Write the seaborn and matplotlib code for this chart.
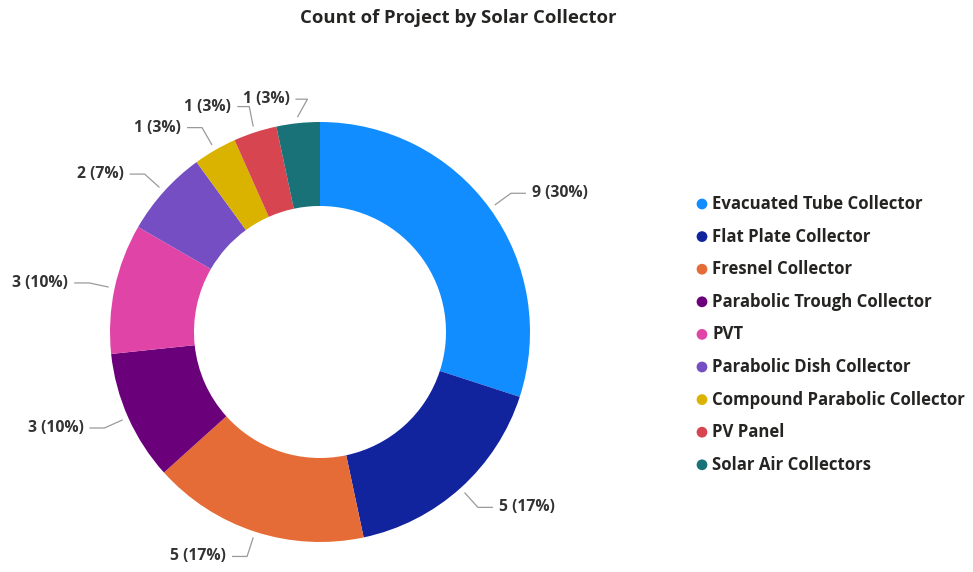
import numpy as np
import matplotlib
matplotlib.use("Agg")
import matplotlib.pyplot as plt
import seaborn as sns

# Project counts per solar collector type
collectors = [
    "Evacuated Tube Collector",
    "Flat Plate Collector",
    "Fresnel Collector",
    "Parabolic Trough Collector",
    "PVT",
    "Parabolic Dish Collector",
    "Compound Parabolic Collector",
    "PV Panel",
    "Solar Air Collectors",
]
counts = [9, 5, 5, 3, 3, 2, 1, 1, 1]
colors = ["#118DFF", "#12239E", "#E66C37", "#6B007B", "#E044A7",
          "#744EC2", "#D9B300", "#D64550", "#197278"]

sns.set_theme(style="white")
plt.rcParams["font.family"] = ["Open Sans", "DejaVu Sans"]

W, H = 973, 572
fig = plt.figure(figsize=(W / 100, H / 100), dpi=100)
ax = fig.add_axes([0, 0, 1, 1])

# Donut geometry in pixel units (y measured upward)
cx, cy = 320, H - 332
R = 210
ring = 0.40

wedges, _ = ax.pie(
    counts, colors=colors, startangle=90, counterclock=False,
    radius=R, center=(cx, cy),
    wedgeprops=dict(width=R * ring, edgecolor="none"),
)
ax.set_xlim(0, W)
ax.set_ylim(0, H)
ax.set_aspect("equal")
ax.axis("off")

# Data labels with elbow leader lines
total = sum(counts)
line_col = "#9a9a9a"
text_col = "#333333"
# crowded labels at the top get an explicit elbow offset (dx, dy) from the ring
elbow_override = {7: (-4, 20), 8: (10, 18)}
cum = 0
for i, v in enumerate(counts):
    mid = 90 - (cum + v / 2) / total * 360
    cum += v
    th = np.deg2rad(mid)
    ux, uy = np.cos(th), np.sin(th)
    p0 = (cx + (R + 6) * ux, cy + (R + 6) * uy)
    if i in elbow_override:
        dx, dy = elbow_override[i]
        p1 = (p0[0] + dx, p0[1] + dy)
        side = -1
        run = 12
    else:
        p1 = (cx + (R + 26) * ux, cy + (R + 26) * uy)
        side = 1 if ux >= 0 else -1
        run = 15
    p2 = (p1[0] + side * run, p1[1])
    ax.plot([p0[0], p1[0], p2[0]], [p0[1], p1[1], p2[1]],
            color=line_col, lw=0.9, solid_capstyle="butt")
    label = f"{v} ({v / total:.0%})"
    ax.text(p2[0] + side * 6, p2[1], label, ha="left" if side > 0 else "right",
            va="center", fontsize=11.3, fontweight="bold", color=text_col)

# Title
ax.text(458, H - 18, "Count of Project by Solar Collector", ha="center",
        va="center", fontsize=13.3, fontweight="bold", color="#252423")

# Legend
lx, ly0, step = 702, H - 204, 32.6
for i, (name, c) in enumerate(zip(collectors, colors)):
    y = ly0 - i * step
    ax.scatter([lx], [y], s=60, color=c, edgecolors="none")
    ax.text(lx + 10, y, name, ha="left", va="center", fontsize=12.1,
            fontweight="bold", color="#252423")

fig.savefig("out.png", dpi=100, facecolor="white")
